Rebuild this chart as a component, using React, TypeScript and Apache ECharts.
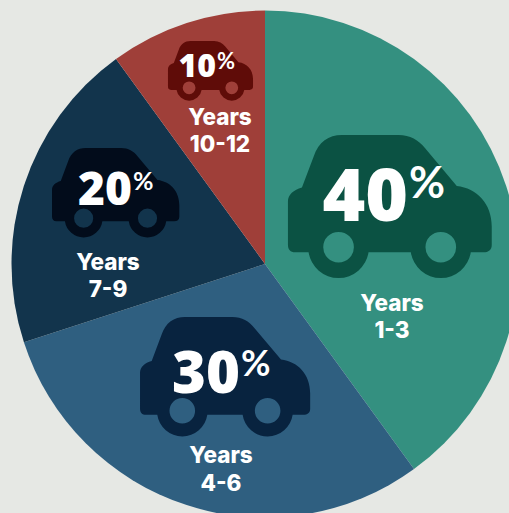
import React, { useEffect, useRef } from "react";
import * as echarts from "echarts";

const categories = ["Years 1-3", "Years 4-6", "Years 7-9", "Years 10-12"];
const values = [40, 30, 20, 10];
const rangeLabels = ["1-3", "4-6", "7-9", "10-12"];
const sliceColors = ["#349080", "#2f5f80", "#12344c", "#9f3f39"];
const carColors = ["#0b5243", "#08233f", "#020c1b", "#5f0c08"];

// layout of each slice's car and texts, in page pixels
const carX = [270.3, 125.3, 41, 160.6];
const carY = [120, 304.5, 138.7, 34.7];
const carScale = [0.3333, 0.278, 0.2075, 0.139];
const pctRight = [408, 240, 132, 216];
const pctY = [192, 370, 187, 64];
const pctSize = [73, 58, 46, 32];
const signY = [181, 362, 180, 60];
const signSize = [44, 36, 25, 22];
const labelX = [392, 221, 108, 220];
const labelY = [302, 454, 261, 116];
const labelY2 = [329, 482, 288, 143];
const labelSize = 22.5;

const CAR =
  "M95 203L130 110C145 65 175 45 215 45L385 45C420 45 445 60 465 85L560 198C620 205 665 250 665 320L665 375C665 390 655 397 640 397L602 397A91 91 0 0 1 422 397L295 397A91 91 0 0 1 115 397L75 397C60 397 53 388 53 375L53 245C53 225 70 210 95 203Z" +
  "M159 382A46 46 0 1 0 251 382A46 46 0 1 0 159 382Z" +
  "M466 382A46 46 0 1 0 558 382A46 46 0 1 0 466 382Z";
echarts.graphic.registerShape("car", echarts.graphic.extendPath(CAR, {}) as any);

const FONT = "Open Sans";
const SIGN_FONT = "Lato";
const LABEL_FONT = "Inter";

export default function App() {
  const ref = useRef<HTMLDivElement>(null);
  useEffect(() => {
    document.body.style.margin = "0";
    document.body.style.background = "#e6e8e4";
    const chart = echarts.init(ref.current!, null, { renderer: "svg" });
    const text = (t: string, x: number, y: number, size: number, weight: any, align: string, family: string) => ({
      type: "text",
      z: 10,
      style: { text: t, x, y, fill: "#ffffff", fontSize: size, fontWeight: weight, fontFamily: family, align, verticalAlign: "middle" },
    });
    const elements: any[] = [];
    values.forEach((v, i) => {
      elements.push({
        type: "car",
        x: carX[i],
        y: carY[i],
        scaleX: carScale[i],
        scaleY: carScale[i],
        z: 5,
        style: { fill: carColors[i] },
      });
      elements.push(text(String(v), pctRight[i], pctY[i], pctSize[i], 800, "right", FONT));
      elements.push(text("%", pctRight[i] + 1, signY[i], signSize[i], 700, "left", SIGN_FONT));
      elements.push(text("Years", labelX[i], labelY[i], labelSize, 800, "center", LABEL_FONT));
      elements.push(text(rangeLabels[i], labelX[i], labelY2[i], labelSize, 800, "center", LABEL_FONT));
    });
    chart.setOption({
      animation: false,
      backgroundColor: "#e6e8e4",
      graphic: { elements },
      series: [
        {
          type: "pie",
          center: [265, 264],
          radius: [0, 253.5],
          startAngle: 90,
          clockwise: true,
          silent: true,
          label: { show: false },
          labelLine: { show: false },
          itemStyle: { borderWidth: 0 },
          data: categories.map((name, i) => ({ name, value: values[i], itemStyle: { color: sliceColors[i] } })),
        },
      ],
    });
    return () => chart.dispose();
  }, []);
  return <div ref={ref} style={{ width: 509, height: 513, overflow: "hidden" }} />;
}
